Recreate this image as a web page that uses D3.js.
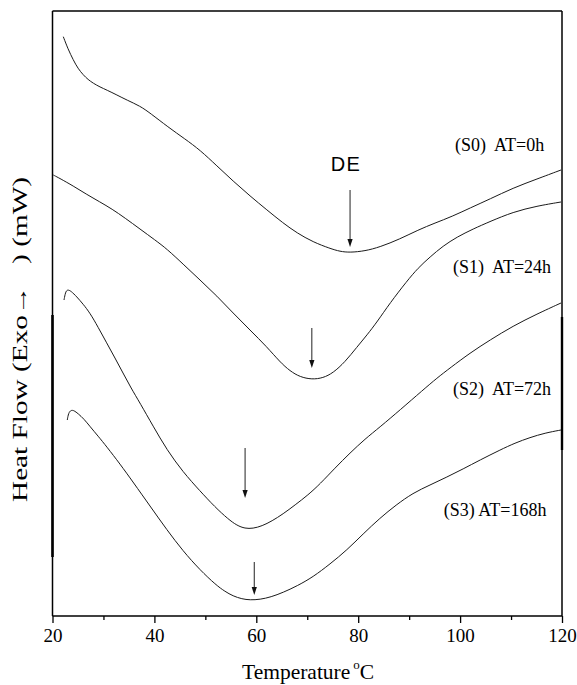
<!DOCTYPE html>
<html lang="en">
<head>
<meta charset="utf-8" />
<title>DSC heat flow curves</title>
<style>
  body   { margin:0; background:#fff; }
  svg    { display:block; }
  .curve { fill:none; stroke:#1a1a1a; stroke-width:1; }
  .frame { stroke:#000; stroke-width:1.5; }
  .serif { font-family:"Liberation Serif","Times New Roman",serif; fill:#000; }
  .axis text { font-family:"Liberation Serif","Times New Roman",serif; font-size:19px; fill:#000; }
  .axis line { stroke:#000; stroke-width:1.3; }
</style>
</head>
<body>
<svg width="577" height="685"></svg>

<script src="https://cdn.jsdelivr.net/npm/d3@7"></script>
<script>
/* ---------- DATA : temperature (°C) and heat flow (arb. units, curves offset) ---------- */
const s0T = [22.12,23.04,24.08,25.0,26.05,26.97,28.01,29.32,30.64,32.66,34.56,37.17,39.14,42.67,46.01,48.95,
             52.29,55.43,58.77,62.10,65.24,67.99,71.13,74.47,76.43,78.39,81.33,84.28,88.20,91.74,95.08,98.41,
             101.95,105.87,110.38,115.09,119.8];
const s0V = [57.93,56.7,55.6,54.75,54.1,53.65,53.27,52.9,52.6,52.1,51.6,51.0,50.3,48.9,47.7,46.6,
             45.0,43.5,42.0,40.6,39.3,38.3,37.4,36.75,36.45,36.35,36.5,36.9,37.7,38.6,39.3,39.95,
             40.8,41.7,42.8,43.7,44.6];

const s1T = [20.16,21.47,24.08,26.58,29.32,31.68,34.23,37.17,40.12,42.47,45.61,48.95,52.29,55.43,58.76,62.10,
             64.65,66.61,68.58,70.93,73.09,75.05,77.41,79.76,81.73,83.69,86.24,89.58,91.74,94.09,96.64,99.39,
             102.53,105.87,110.38,115.09,119.8];
const s1V = [44.1,43.75,43.0,42.2,41.4,40.7,39.8,38.7,37.6,36.7,35.2,33.6,32.0,30.3,28.6,26.9,
             25.4,24.5,23.9,23.65,23.8,24.3,25.4,26.9,28.1,29.4,31.3,33.5,34.8,35.9,37.0,37.9,
             38.7,39.45,40.4,41.0,41.4];

const s2T = [22.26,22.55,22.94,23.63,24.75,25.99,27.36,28.93,30.64,32.27,33.84,35.41,37.17,39.73,42.47,45.61,
             48.95,51.89,54.45,56.21,57.78,59.35,61.12,63.08,65.24,67.60,70.15,72.50,75.45,78.39,81.33,84.28,
             88.20,92.72,95.47,98.02,101.94,105.87,110.38,115.09,119.8];
const s2V = [31.6,32.4,32.65,32.5,31.93,31.2,30.3,28.9,27.3,25.8,24.3,22.8,21.3,19.0,16.6,14.4,
             12.5,10.9,9.7,9.05,8.75,8.75,9.0,9.5,10.2,11.1,12.1,13.2,14.8,16.3,17.7,18.9,
             20.6,22.6,23.8,24.8,26.3,27.6,29.0,30.2,31.3];

const s3T = [22.90,23.14,23.63,24.22,25.00,26.18,27.36,28.93,30.64,33.25,35.80,39.14,42.47,45.61,48.95,52.09,
             53.86,55.43,57.19,58.76,60.73,62.89,65.24,67.99,71.13,74.47,77.80,80.94,84.28,87.42,90.75,94.09,
             97.43,100.57,103.91,107.83,110.77,113.72,116.66,119.8];
const s3V = [19.6,20.3,20.6,20.55,20.25,19.7,18.95,18.0,16.93,15.2,13.4,11.0,8.6,6.5,4.6,3.1,
             2.45,2.0,1.7,1.6,1.65,1.9,2.35,3.0,3.9,5.2,6.6,8.2,9.8,11.1,12.3,13.1,
             13.9,14.7,15.6,16.6,17.3,17.85,18.3,18.6];

const seriesLabels = ["(S0)  AT=0h", "(S1)  AT=24h", "(S2)  AT=72h", "(S3) AT=168h"];
const labelT = [99.0, 98.6, 98.6, 96.8];
const labelV = [46.5, 34.3, 22.1, 10.0];

// peak-marking arrows: temperature, tail value, tip value
const peakT     = [78.4, 70.9, 57.8, 59.6];
const arrowFrom = [42.6, 28.8, 16.8, 5.4];
const arrowTo   = [36.9, 24.8, 11.8, 2.1];

const xTicks = [20, 40, 60, 80, 100, 120];
const xMinor = [30, 50, 70, 90, 110];

const series = [[s0T, s0V], [s1T, s1V], [s2T, s2V], [s3T, s3V]]
   .map(([t, v]) => t.map((d, i) => [d, v[i]]));

/* ---------- SCALES ---------- */
const svg = d3.select("svg");
const x = d3.scaleLinear([20, 120], [52.5, 562]);
const y = d3.scaleLinear([0, 60.5], [616, 11]);

/* ---------- FRAME ---------- */
const [x0, x1] = x.range(), [yb, yt] = y.range();
const frame = svg.append("g");
frame.append("line").attr("class", "frame").attr("x1", x0).attr("x2", x1).attr("y1", yt).attr("y2", yt);
frame.append("line").attr("class", "frame").attr("x1", x0).attr("x2", x1).attr("y1", yb).attr("y2", yb);
frame.append("line").attr("class", "frame").attr("x1", x0).attr("x2", x0).attr("y1", yt).attr("y2", yb);
frame.append("line").attr("class", "frame").attr("x1", x1).attr("x2", x1).attr("y1", yt).attr("y2", yb);

// heavier bits of the side lines (as in the scan)
frame.append("line").attr("x1", x0).attr("x2", x0).attr("y1", 315).attr("y2", 557)
   .attr("stroke", "#000").attr("stroke-width", 2.6);
frame.append("line").attr("x1", x1).attr("x2", x1).attr("y1", 317).attr("y2", 450)
   .attr("stroke", "#000").attr("stroke-width", 2.4);

/* ---------- X AXIS ---------- */
svg.append("g").attr("class", "axis")
   .attr("transform", `translate(0,${yb})`)
   .call(d3.axisBottom(x).tickValues(xTicks).tickSize(7).tickPadding(6).tickFormat(d3.format("d")))
   .call(g => g.select(".domain").remove());

svg.append("g").attr("class", "axis")
   .attr("transform", `translate(0,${yb})`)
   .call(d3.axisBottom(x).tickValues(xMinor).tickSize(4).tickFormat(""))
   .call(g => g.select(".domain").remove());

/* ---------- CURVES ---------- */
const line = d3.line()
   .x(d => x(d[0])).y(d => y(d[1]))
   .curve(d3.curveBasis);

svg.append("g").selectAll("path")
   .data(series)
   .join("path")
   .attr("class", "curve")
   .attr("d", line);

/* ---------- PEAK ARROWS ---------- */
const arrows = svg.append("g").selectAll("g")
   .data(peakT.map((t, i) => ({ t, from: arrowFrom[i], to: arrowTo[i] })))
   .join("g");

arrows.append("line")
   .attr("x1", d => x(d.t)).attr("x2", d => x(d.t))
   .attr("y1", d => y(d.from)).attr("y2", d => y(d.to) - 5)
   .attr("stroke", "#222").attr("stroke-width", 1);

arrows.append("path")
   .attr("d", d => {
      const px = x(d.t), py = y(d.to);
      return `M${px - 2.6},${py - 8}L${px + 2.6},${py - 8}L${px},${py}Z`;
   })
   .attr("fill", "#111");

svg.append("text")
   .attr("x", x(peakT[0]) - 4).attr("y", 170.5)
   .attr("text-anchor", "middle")
   .style("font-family", "'Liberation Sans',Arial,sans-serif")
   .style("font-size", "20px")
   .style("letter-spacing", "1.5px")
   .text("DE");

/* ---------- SERIES LABELS ---------- */
svg.append("g").selectAll("text")
   .data(seriesLabels)
   .join("text")
   .attr("class", "serif")
   .attr("x", (d, i) => x(labelT[i]))
   .attr("y", (d, i) => y(labelV[i]))
   .style("font-size", "18px")
   .style("white-space", "pre")
   .text(d => d);

/* ---------- AXIS TITLES ---------- */
const xTitle = svg.append("text").attr("class", "serif")
   .attr("x", 242).attr("y", 679)
   .style("font-size", "21.5px");
xTitle.append("tspan").text("Temperature");
xTitle.append("tspan").attr("dx", 3).attr("dy", -10).style("font-size", "13px").text("o");
xTitle.append("tspan").attr("dy", 10).text("C");

svg.append("text").attr("class", "serif")
   .attr("transform", "translate(27,339.5) rotate(-90)")
   .attr("text-anchor", "middle")
   .attr("textLength", 325).attr("lengthAdjust", "spacingAndGlyphs")
   .style("font-size", "20px")
   .style("white-space", "pre")
   .text("Heat Flow (Exo\u2192   ) (mW)");
</script>
</body>
</html>
